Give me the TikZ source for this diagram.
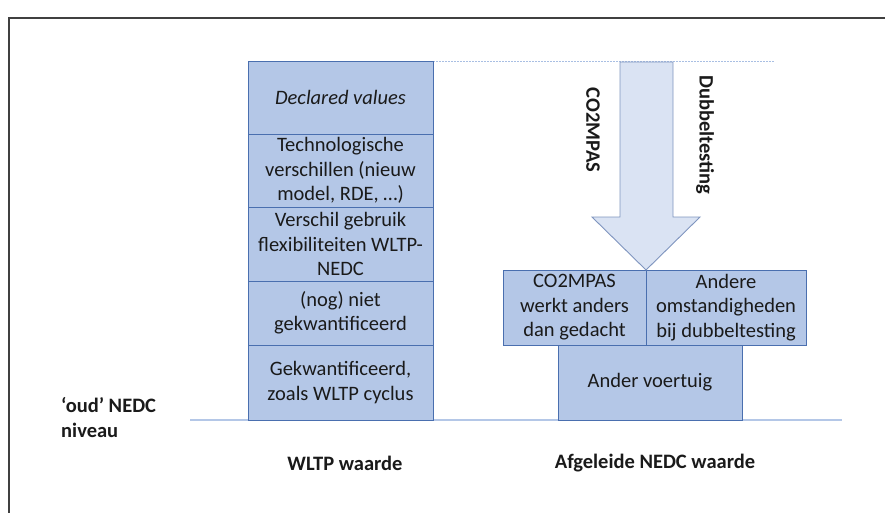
\documentclass[tikz,border=0pt]{standalone}
\usepackage{fontspec}
\setmainfont{Carlito}
\definecolor{boxfill}{HTML}{B4C7E7}
\definecolor{boxline}{HTML}{4A6FAF}
\definecolor{arrfill}{HTML}{DAE3F3}
\definecolor{arrline}{HTML}{7F95BF}
\definecolor{baseln}{HTML}{B4C7E7}
\definecolor{dotln}{HTML}{A9BFE3}
\definecolor{txt}{HTML}{1A1A1A}
\begin{document}
\begin{tikzpicture}[x=1pt,y=-1pt,
  blk/.style={draw=boxline,line width=0.8pt,fill=boxfill,inner sep=0pt,align=center,
    text=txt,font=\fontsize{20.5}{24.5}\selectfont},
  lbl/.style={font=\bfseries\fontsize{20.5}{25}\selectfont,text=txt,inner sep=0pt}]
\useasboundingbox (0,0) rectangle (885,512);
\clip (0,0) rectangle (885,512);
\draw[black!75,line width=1.3pt] (9,18) rectangle (900,530);
% baseline and dotted line
\coordinate (bl1) at (190,420);
\coordinate (bl2) at (842,420);
\draw[baseln,line width=2pt] (bl1) -- (bl2);
\coordinate (dt1) at (433,61);
\coordinate (dt2) at (775,61);
\draw[dotln,line width=1pt,dash pattern=on 1.5pt off 1.5pt] (dt1) -- (dt2);
% left stack
\node[blk,minimum width=185,minimum height=73] (dv) at (340.5,97.5) {\itshape Declared values};
\node[blk,minimum width=185,minimum height=73] (tv) at (340.5,170.5) {Technologische\\verschillen (nieuw\\model, RDE, \dots)};
\node[blk,minimum width=185,minimum height=74] (vg) at (340.5,244) {Verschil gebruik\\flexibiliteiten WLTP-\\NEDC};
\node[blk,minimum width=185,minimum height=64] (ng) at (340.5,313) {(nog) niet\\gekwantificeerd};
\node[blk,minimum width=185,minimum height=75] (gk) at (340.5,382.5) {Gekwantificeerd,\\zoals WLTP cyclus};
% right boxes
\node[blk,minimum width=143,minimum height=75] (cw) at (574.5,307.5) {CO2MPAS\\werkt anders\\dan gedacht};
\node[blk,minimum width=160,minimum height=75] (ao) at (726,307.5) {Andere\\omstandigheden\\bij dubbeltesting};
\node[blk,minimum width=184,minimum height=75] (av) at (650,382.5) {Ander voertuig};
% block arrow
\draw[arrline,line width=0.9pt,fill=arrfill,line join=miter]
  (620,62) -- (673,62) -- (673,217) -- (700,217) -- (646,270) -- (592,217) -- (620,217) -- cycle;
% rotated labels
\node[lbl,rotate=-90] (co) at (593,130) {CO2MPAS};
\node[lbl,rotate=-90] (db) at (705,135) {Dubbeltesting};
% bottom labels
\node[lbl,align=left,anchor=west] (oud) at (61,417) {‘oud’ NEDC\\niveau};
\node[lbl] (wl) at (345,463) {WLTP waarde};
\node[lbl] (an) at (655,463) {Afgeleide NEDC waarde};
\end{tikzpicture}
\end{document}
